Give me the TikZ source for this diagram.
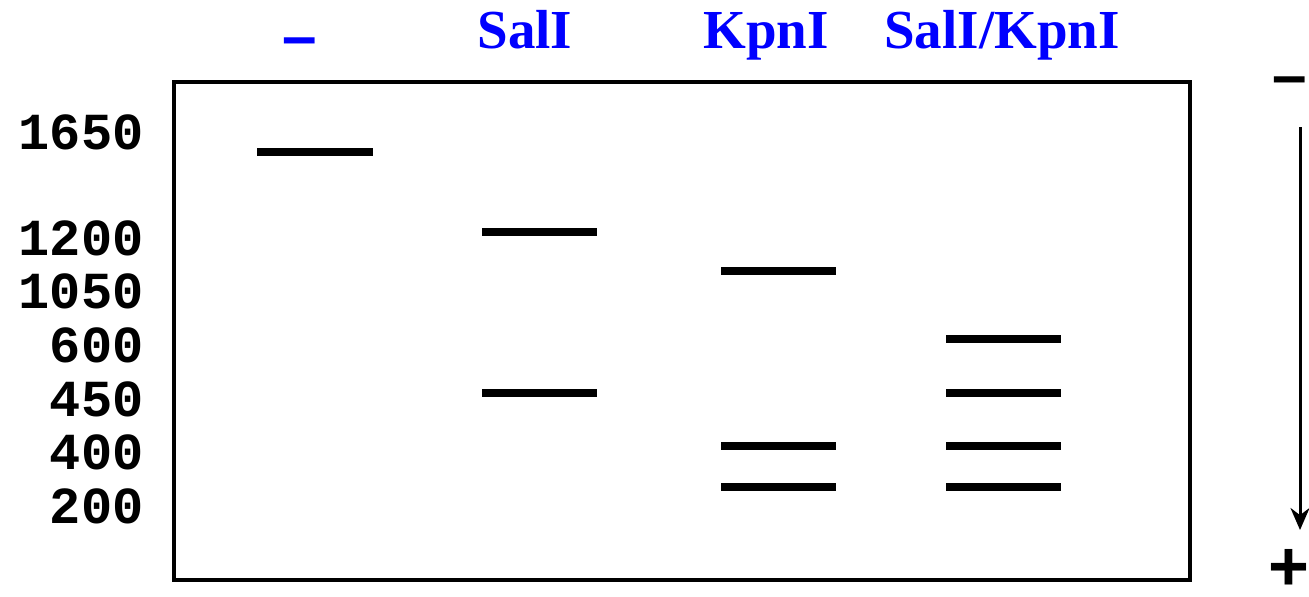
\documentclass[tikz,border=0pt]{standalone}
\usepackage{fontspec}
\setmainfont{Liberation Serif}
\newfontfamily\sizefont{Liberation Mono}
\newfontfamily\signfont{Liberation Sans}
\usetikzlibrary{arrows.meta}

\begin{document}
\begin{tikzpicture}[
  x=0.5pt, y=-0.5pt,
  lane/.style={font=\fontsize{27.5}{27.5}\selectfont\bfseries, text=blue, anchor=base, inner sep=0pt},
  size/.style={font=\fontsize{26}{26}\sizefont\bfseries, anchor=base east, inner sep=0pt},
  sign/.style={font=\fontsize{31}{31}\signfont\bfseries, anchor=base, inner sep=0pt},
  band/.style={line width=4pt, line cap=butt}
]
\useasboundingbox (0,0) rectangle (1309,596);

% gel outline
\draw[line width=1.7pt] (174,82) rectangle (1190,580);

% lane headings
\node[sign, text=blue] (uncut) at (300,57) {–};
\node[lane] (sal) at (525,48) {SalI};
\node[lane] (kpn) at (766,48) {KpnI};
\node[lane] (salkpn) at (1002,48) {SalI/KpnI};

% fragment sizes
\foreach \bp/\y in {1650/149, 1200/255, 1050/308, 600/362, 450/416, 400/469, 200/523}
  \node[size] (bp\bp) at (144,\y) {\bp};

% bands
\draw[band] (257,152) -- (373,152);
\foreach \y in {232,393}
  \draw[band] (482,\y) -- (597,\y);
\foreach \y in {271,446,487}
  \draw[band] (721,\y) -- (836,\y);
\foreach \y in {339,393,446,487}
  \draw[band] (946,\y) -- (1061,\y);

% direction of migration
\node[sign] (minus) at (1290,96) {–};
\node[sign, font=\fontsize{35}{35}\signfont\bfseries] (plus) at (1289,590) {+};
\coordinate (start) at (1300,127);
\coordinate (end) at (1300,530);
\draw[line width=1.5pt, -{Stealth[length=11pt, width=9.5pt]}] (start) -- (end);

\end{tikzpicture}
\end{document}
